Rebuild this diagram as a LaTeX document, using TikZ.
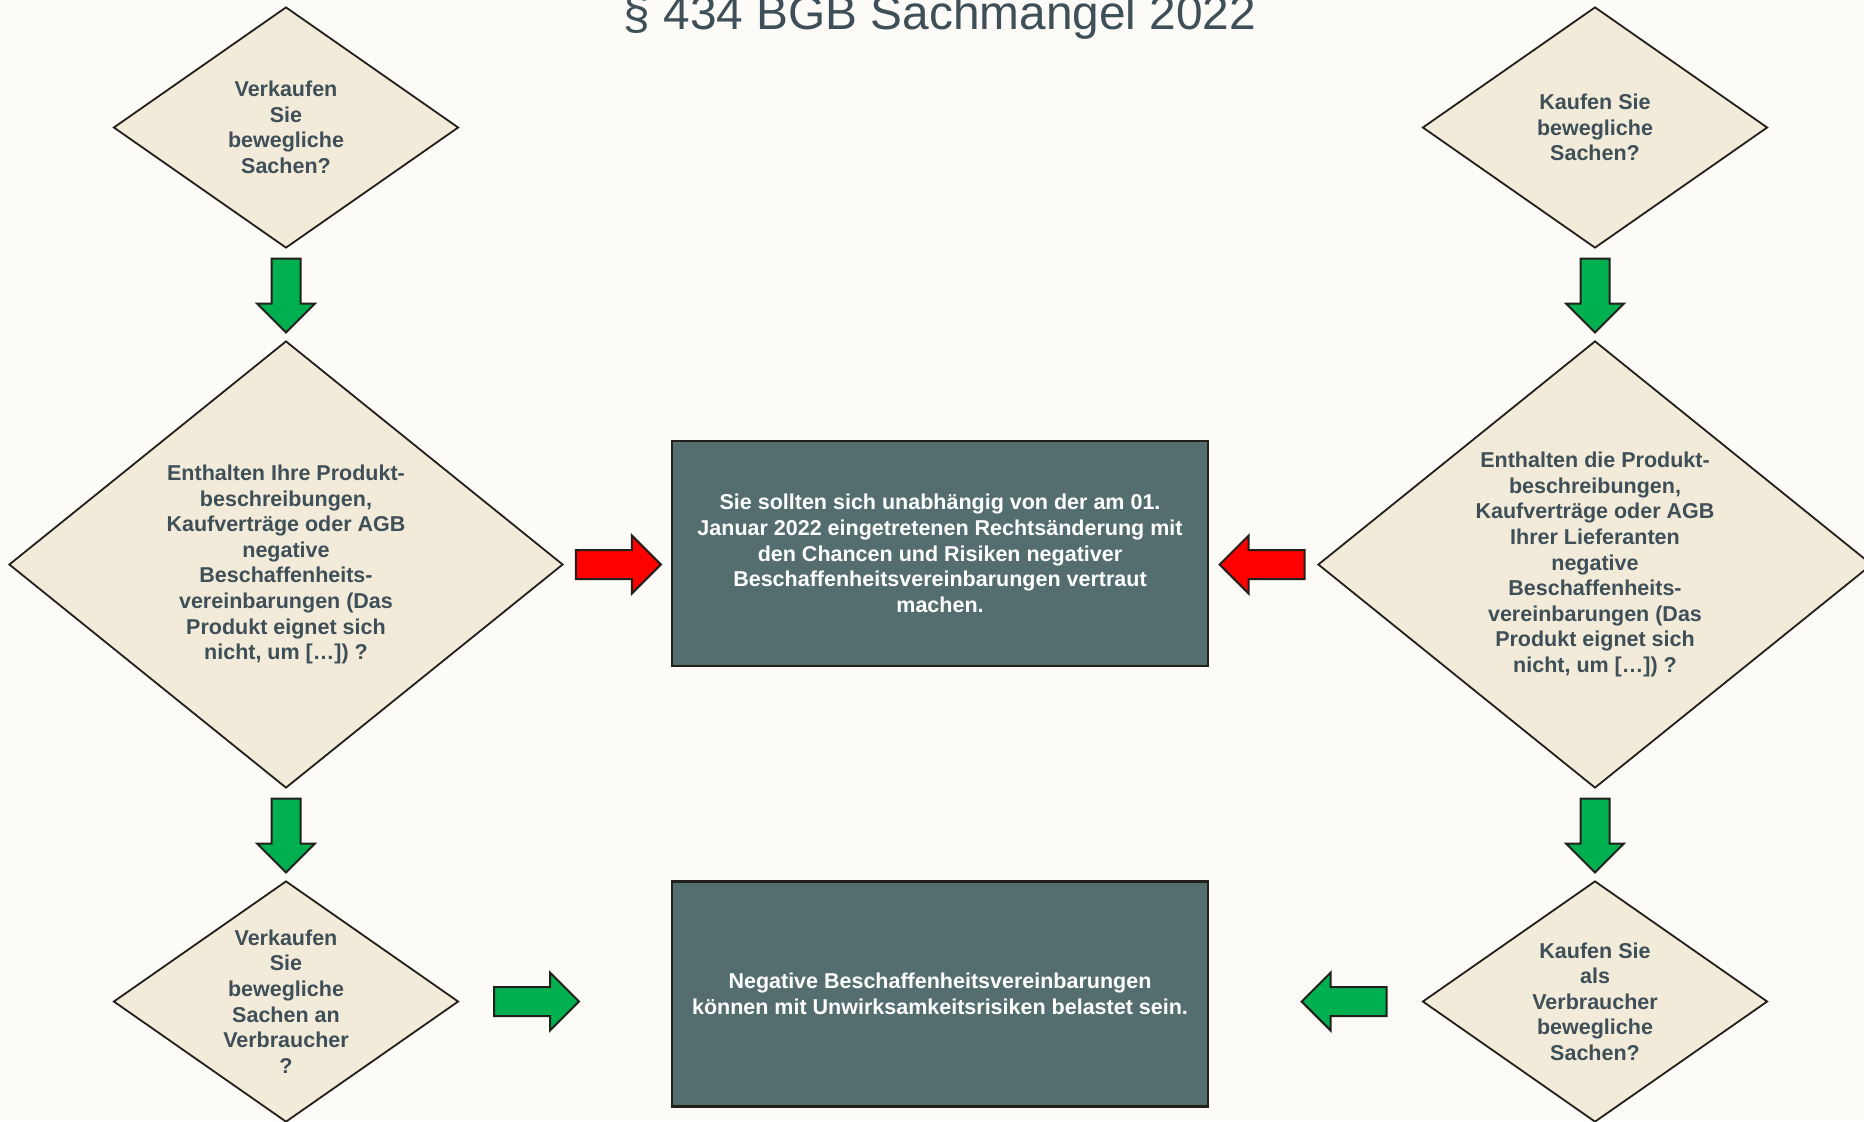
\documentclass[tikz,border=0pt]{standalone}
\usepackage{fontspec}
\setmainfont{Liberation Sans}
\usepackage{xcolor}
\usepackage{tikz}
\usetikzlibrary{shapes.geometric,shapes.arrows,calc}
\definecolor{paper}{RGB}{252,251,247}
\definecolor{sand}{RGB}{242,235,218}
\definecolor{slate}{RGB}{62,79,88}
\definecolor{boxfill}{RGB}{84,110,112}
\definecolor{okgreen}{RGB}{0,176,80}
\definecolor{edge}{RGB}{35,31,26}
\tikzset{question/.style={diamond,draw=edge,line width=0.9pt,fill=sand,text=slate,inner sep=0pt,align=center,font=\fontsize{10.75}{12.8}\selectfont\bfseries},
	small question/.style={question,minimum width=172.5pt,minimum height=120.5pt,aspect=1.43},
	big question/.style={question,minimum width=277pt,minimum height=223.5pt,aspect=1.24},
	answer/.style={rectangle,draw=edge,line width=1.2pt,fill=boxfill,text=white,align=center,minimum width=268pt,minimum height=112.5pt,font=\fontsize{10.75}{12.8}\selectfont\bfseries},
	block arrow/.style={single arrow,draw=edge,line width=1pt,inner sep=0pt,text height=13.5pt,text depth=0pt,single arrow head extend=7.25pt,anchor=tail},
	green arrow/.style={block arrow,fill=okgreen},
	red arrow/.style={block arrow,fill=red}}

\begin{document}
\begin{tikzpicture}[x=0.5pt,y=-0.5pt]
			\fill[paper] (0,0) rectangle (1864,1121);
			\useasboundingbox (0,0) rectangle (1864,1121);
			\node[anchor=base,text=slate,font=\fontsize{23.9}{28}\selectfont] (title) at (940,29) {§ 434 BGB Sachmangel 2022};
			% Verkaeufer
			\node[small question] (v1) at (286,127.5) {Verkaufen\\Sie\\bewegliche\\Sachen?};
			\node[big question] (v2) at (286,564.5) {Enthalten Ihre Produkt-\\beschreibungen,\\Kaufverträge oder AGB\\negative\\Beschaffenheits-\\vereinbarungen (Das\\Produkt eignet sich\\nicht, um […]) ?};
			\node[small question] (v3) at (286,1001.5) {Verkaufen\\Sie\\bewegliche\\Sachen an\\Verbraucher\\?};
			% Kaeufer
			\node[small question] (k1) at (1595,127.5) {Kaufen Sie\\bewegliche\\Sachen?};
			\node[big question] (k2) at (1595,564.5) {Enthalten die Produkt-\\beschreibungen,\\Kaufverträge oder AGB\\Ihrer Lieferanten\\negative\\Beschaffenheits-\\vereinbarungen (Das\\Produkt eignet sich\\nicht, um […]) ?};
			\node[small question] (k3) at (1595,1001.5) {Kaufen Sie\\als\\Verbraucher\\bewegliche\\Sachen?};
			% Ergebnisse
			\node[answer] (info) at (940,553.5) {Sie sollten sich unabhängig von der am 01.\\Januar 2022 eingetretenen Rechtsänderung mit\\den Chancen und Risiken negativer\\Beschaffenheitsvereinbarungen vertraut\\machen.};
			\node[answer] (risk) at (940,994) {Negative Beschaffenheitsvereinbarungen\\können mit Unwirksamkeitsrisiken belastet sein.};
			% Pfeile (Anker am Schaftende)
			\node[green arrow,minimum height=37pt,rotate=-90] (v12) at ($(v1.south)!0.5!(v2.north)+(0,-37)$) {};
			\node[green arrow,minimum height=37pt,rotate=-90] (v23) at ($(v2.south)!0.5!(v3.north)+(0,-37)$) {};
			\node[green arrow,minimum height=37pt,rotate=-90] (k12) at ($(k1.south)!0.5!(k2.north)+(0,-37)$) {};
			\node[green arrow,minimum height=37pt,rotate=-90] (k23) at ($(k2.south)!0.5!(k3.north)+(0,-37)$) {};
			\node[red arrow,minimum height=42.5pt] (v2info) at ($(v2.east)!0.5!(v2.east -| info.west)+(-42.5,0)$) {};
			\node[red arrow,minimum height=42.5pt,rotate=180] (k2info) at ($(k2.west)!0.5!(k2.west -| info.east)+(42.5,0)$) {};
			\node[green arrow,minimum height=42.5pt] (v3risk) at ($(v3.east)!0.36!(v3.east -| risk.west)+(-42.5,0)$) {};
			\node[green arrow,minimum height=42.5pt,rotate=180] (k3risk) at ($(k3.west)!0.36!(k3.west -| risk.east)+(42.5,0)$) {};
		\end{tikzpicture}
\end{document}
